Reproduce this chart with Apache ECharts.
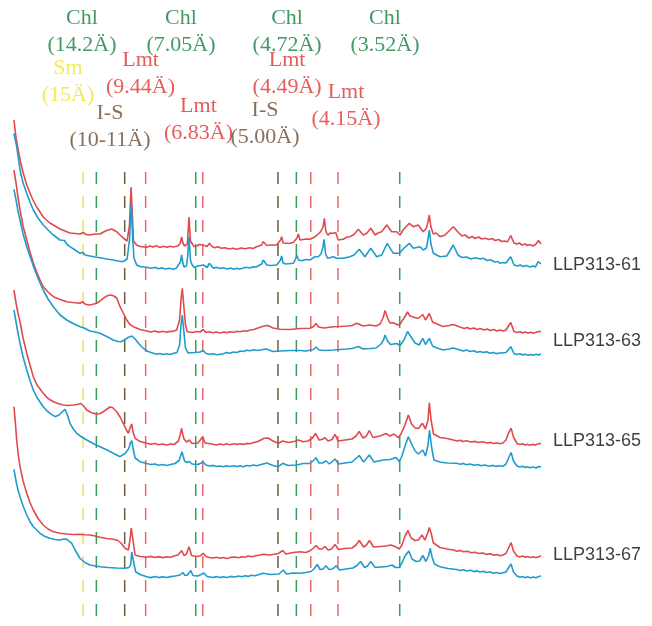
<!DOCTYPE html>
<html>
<head>
<meta charset="utf-8">
<script src="https://cdn.jsdelivr.net/npm/echarts@6/dist/echarts.min.js"></script>
<style>
  html, body { margin: 0; padding: 0; background: #ffffff; }
  #chart { width: 652px; height: 626px; }
</style>
</head>
<body>
<div id="chart"></div>
<script>
// XRD patterns: [2θ (°), intensity above the pattern's own baseline (a.u.)]
// red = air-dried, blue = glycolated; each sample is stacked with an offset.
const red61 = [[1.06,127],[1.19,109],[1.33,97],[1.47,85],[1.64,74],[1.84,63],[2.06,54],[2.25,47],[2.48,40],[2.69,35],[2.89,30],[3.09,27],[3.31,24],[3.63,21],[3.94,18],[4.25,16],[4.56,14],[4.88,13.5],[5.19,13],[5.38,14.5],[5.56,12.5],[5.81,12],[6.13,13],[6.44,13],[6.66,15],[6.86,16.5],[7.17,18],[7.48,15.3],[7.69,12],[7.89,9],[8.13,6],[8.28,22],[8.38,60],[8.46,32],[8.53,6],[8.72,2],[8.94,0.5],[9.36,-0.3],[9.55,1],[9.75,0],[9.95,1.2],[10.19,-0.5],[10.4,0.8],[10.63,-0.3],[10.82,0.7],[11.0,0],[11.31,1],[11.46,4],[11.54,10],[11.62,4],[11.72,1],[11.9,3],[12.0,30],[12.09,6],[12.17,4],[12.31,0.5],[12.48,1],[12.63,2.5],[12.88,2],[13.13,0.5],[13.27,3.7],[13.44,0.5],[13.62,-0.8],[13.81,0.2],[14.02,-1.2],[14.25,-0.8],[14.5,-2],[14.75,-1.2],[15.0,-2.2],[15.25,-1],[15.5,-1.8],[15.81,-0.8],[16.0,-1.5],[16.19,0],[16.54,2],[16.64,5.3],[16.86,1.5],[17.13,2],[17.48,2],[17.72,7],[17.79,10.3],[17.88,4],[18.0,3],[18.25,3.5],[18.52,4.5],[18.75,9],[18.83,13],[18.94,7],[19.04,6.3],[19.31,8],[19.56,7.7],[19.88,10.3],[20.08,13],[20.23,15.3],[20.38,20],[20.46,28.7],[20.55,16],[20.67,12],[20.84,14],[21.02,13.7],[21.17,14.5],[21.33,7],[21.64,7.7],[21.88,10],[22.06,10.3],[22.31,12.5],[22.58,17.7],[22.89,12],[23.13,14],[23.36,18.7],[23.63,12],[23.81,14],[24.04,15.3],[24.36,22],[24.67,15.3],[24.98,15.3],[25.19,12],[25.38,17],[25.5,18.7],[25.77,23.7],[26.02,20.3],[26.33,22],[26.64,15.3],[26.84,19],[26.95,26],[27.02,32],[27.12,20],[27.27,13],[27.44,14],[27.69,10.3],[28.0,12],[28.52,20.3],[28.81,15],[29.05,11],[29.25,12],[29.5,9],[29.7,10.5],[29.88,8.5],[30.1,10],[30.3,8],[30.5,8.8],[30.75,7.5],[30.95,8.5],[31.13,6.5],[31.35,7.5],[31.55,5.5],[31.75,6],[31.9,5],[32.11,11.5],[32.31,4],[32.5,3],[32.65,4],[32.81,2],[33.0,3],[33.15,1.5],[33.31,2.5],[33.5,1],[33.69,3],[33.84,6.5],[34.0,3]];

const blue61 = [[1.06,134.7],[1.23,121.3],[1.44,98],[1.63,85],[1.86,74.7],[2.06,66],[2.27,58],[2.56,50],[2.89,43],[3.19,38],[3.52,33],[3.94,28],[4.06,26.5],[4.21,27.5],[4.38,23.5],[4.56,21.3],[4.88,18],[5.19,14.7],[5.38,15.5],[5.5,13],[5.81,12],[6.13,11],[6.44,10.3],[6.86,9],[7.27,8],[7.56,7],[7.89,6.3],[8.13,9],[8.28,28],[8.39,64.7],[8.47,33],[8.56,10],[8.73,3],[8.94,1.5],[9.36,0.7],[9.6,-0.3],[9.88,0.5],[10.1,-0.8],[10.3,0.2],[10.5,-1],[10.75,-0.2],[11.02,-1.3],[11.2,-0.3],[11.31,0],[11.46,6],[11.54,13],[11.62,5],[11.69,1],[11.84,2],[11.92,12],[12.0,31.3],[12.09,8],[12.17,4],[12.31,0.5],[12.56,2],[12.89,3],[13.13,0.5],[13.27,4.7],[13.52,-0.3],[13.72,0.7],[13.94,-0.5],[14.15,0.3],[14.4,-1],[14.6,0],[14.77,-1.3],[15.0,-0.3],[15.15,-1],[15.31,-0.5],[15.55,0.7],[15.81,0],[16.0,1.3],[16.19,1],[16.54,4],[16.64,8],[16.86,3],[17.13,2.5],[17.48,3],[17.72,8],[17.79,12],[17.88,5],[18.06,4],[18.52,4.7],[18.66,9],[18.73,13],[18.85,8],[19.04,7.3],[19.31,8.5],[19.56,8],[19.88,11.3],[20.08,11.3],[20.25,14],[20.36,20],[20.44,28.7],[20.54,14],[20.67,9.7],[21.02,11.3],[21.23,9.7],[21.64,9.7],[22.06,11.3],[22.31,13],[22.64,18.7],[23.0,11.3],[23.36,19.7],[23.73,11.3],[24.04,13],[24.39,24.7],[24.77,14.7],[25.14,14.7],[25.38,19],[25.77,24.7],[26.02,19.7],[26.44,21.3],[26.64,18],[26.84,20],[26.95,30],[27.02,38],[27.12,24],[27.27,14.7],[27.69,11.3],[28.11,12],[28.52,23],[28.81,13],[29.05,10.5],[29.36,11],[29.6,9],[29.9,10.3],[30.19,9],[30.4,9.8],[30.61,7.5],[30.85,8.2],[31.1,6],[31.3,6.5],[31.44,4.7],[31.6,5.5],[31.81,5],[32.11,11.3],[32.31,3],[32.55,2],[32.7,3],[32.88,1.5],[33.1,2.5],[33.3,1],[33.5,2],[33.65,1],[33.83,6.3],[34.0,4]];

const red63 = [[1.06,162],[1.19,149],[1.31,135],[1.44,122],[1.63,106],[1.86,92],[2.06,80],[2.27,69],[2.48,60],[2.69,52],[2.89,45.3],[3.19,40],[3.52,35.3],[3.94,32.5],[4.36,30.3],[4.75,29.5],[5.19,28.7],[5.36,30.3],[5.5,28],[5.71,27],[5.94,27.5],[6.23,28.7],[6.44,31],[6.64,33.7],[6.86,36],[7.06,37],[7.25,36.5],[7.48,34],[7.69,25.3],[7.89,19],[8.11,12],[8.31,7.5],[8.52,5.3],[8.94,2.5],[9.36,1],[9.6,0],[9.88,1],[10.1,-0.2],[10.35,0.8],[10.61,-0.2],[10.8,0.8],[10.94,0.5],[11.23,2],[11.41,12],[11.5,32],[11.58,43.7],[11.67,27],[11.78,7],[11.89,0.3],[12.19,-0.5],[12.5,0.5],[12.69,0],[12.89,2.5],[13.06,-0.5],[13.28,0.3],[13.5,-0.8],[13.72,0],[13.94,-1],[14.2,0],[14.36,-0.8],[14.56,0.3],[14.8,-0.3],[15.0,0.8],[15.19,0.2],[15.45,1.3],[15.62,0.8],[15.81,2],[16.05,2.5],[16.31,4],[16.69,6],[16.94,6.5],[17.25,4],[17.69,2.7],[18.31,2.5],[18.94,3.5],[19.56,3.7],[19.78,5.5],[19.94,8.5],[20.09,5],[20.44,4],[21.02,5.3],[21.44,5.5],[21.88,6],[22.19,6.5],[22.48,8.7],[22.88,6],[23.31,7],[23.69,6],[23.94,8],[24.13,14],[24.25,21.5],[24.41,14],[24.56,9],[24.77,9.3],[25.06,7],[25.19,8],[25.44,14],[25.66,20],[25.81,16],[26.02,15],[26.31,13.5],[26.61,17.5],[26.78,12],[27.02,18.5],[27.22,10],[27.5,8],[27.88,5.5],[28.25,6.5],[28.52,7.5],[28.94,5],[29.2,3.5],[29.4,4.5],[29.56,3],[29.8,4],[30.0,2.5],[30.19,3.5],[30.45,2],[30.65,3],[30.81,1.5],[31.05,2.5],[31.25,1],[31.44,2],[31.65,1],[31.81,2],[32.11,9.5],[32.31,0.5],[32.5,-0.5],[32.7,0.3],[32.85,-1],[33.0,0],[33.2,-1],[33.35,-0.2],[33.5,-1.2],[33.7,-0.3],[33.85,0.5],[34.0,0.5]];

const blue63 = [[1.06,164.7],[1.19,154],[1.31,143],[1.44,134],[1.63,120],[1.86,107.3],[2.06,98],[2.27,88],[2.48,79],[2.69,71],[2.89,64],[3.19,55],[3.52,47.3],[3.94,39],[4.36,34],[4.75,30.5],[5.19,27.3],[5.29,29],[5.44,26],[5.81,23],[6.13,22],[6.44,20.7],[6.86,17.5],[7.27,14],[7.56,12.5],[7.75,12.3],[8.0,14.5],[8.19,16.5],[8.42,18],[8.63,15],[8.88,10],[9.14,5.7],[9.44,2.5],[9.77,0.7],[9.98,-0.3],[10.19,0.5],[10.4,-0.5],[10.61,0.2],[10.8,-0.6],[11.0,0.5],[11.25,1.5],[11.41,9],[11.5,29],[11.58,39],[11.67,24],[11.78,6],[11.94,1],[12.38,1.5],[12.69,2],[12.89,3.5],[13.06,0.5],[13.28,-0.3],[13.5,0.3],[13.72,-0.8],[13.94,-0.2],[14.15,0.3],[14.35,1.5],[14.55,0.8],[14.77,2],[15.0,1.5],[15.2,3],[15.38,2.5],[15.6,3.8],[15.81,3.2],[16.05,4.2],[16.31,3.5],[16.81,5],[17.25,2.5],[17.69,3],[18.31,3.5],[18.94,3.5],[19.31,3],[19.77,4.5],[19.94,7],[20.13,4],[20.5,3.5],[21.02,4],[21.44,4.5],[21.88,5],[22.19,5.5],[22.58,7.5],[22.88,5],[23.31,5.5],[23.69,6],[24.0,10],[24.16,14],[24.25,19],[24.41,13],[24.59,9.5],[24.98,10.5],[25.19,8.5],[25.44,14],[25.66,22.5],[25.88,17],[26.13,11],[26.38,9],[26.61,15.7],[26.78,9.5],[27.02,15.7],[27.22,8],[27.5,6],[27.88,4],[28.25,5],[28.52,6],[28.94,4],[29.15,3],[29.35,4],[29.56,2.5],[29.8,3.2],[30.0,1.8],[30.19,2.5],[30.4,1.5],[30.6,2.2],[30.81,0.8],[31.0,1.6],[31.2,0.4],[31.44,1],[31.81,1.5],[32.11,7.3],[32.31,0.5],[32.5,-0.5],[32.7,0.3],[32.85,-1],[33.0,-0.3],[33.2,-1.3],[33.35,-0.5],[33.5,-1.2],[33.7,-0.2],[33.85,-1],[34.0,0]];

const red65 = [[1.06,154],[1.19,141],[1.31,131],[1.44,122],[1.63,106],[1.86,90.7],[2.06,79],[2.27,67.3],[2.5,59],[2.89,50.7],[3.19,45.5],[3.52,42.3],[3.81,40.5],[4.14,39],[4.44,38.5],[4.77,39],[5.0,39.5],[5.25,40.5],[5.41,38],[5.61,34],[5.88,31.5],[6.23,29.7],[6.44,30.5],[6.64,32.3],[6.88,35],[7.06,37],[7.22,36.5],[7.48,32.3],[7.69,27],[7.89,20.7],[8.09,14],[8.21,10.7],[8.31,16],[8.42,20],[8.5,12],[8.63,5.7],[8.94,2.5],[9.36,0.7],[9.6,-0.3],[9.88,0.5],[10.1,-0.8],[10.35,0],[10.61,-1],[10.85,0],[11.06,-0.5],[11.34,3],[11.46,10],[11.54,15.7],[11.62,9],[11.69,5],[11.84,2],[12.02,4],[12.19,0.5],[12.56,1],[12.86,7.3],[13.0,1],[13.44,0],[13.7,-1],[13.94,0],[14.15,-0.8],[14.35,0.2],[14.56,-0.7],[14.8,0.3],[15.0,-0.5],[15.19,0.3],[15.4,-0.4],[15.6,0.6],[15.81,0.3],[16.05,1.5],[16.31,2.5],[16.69,5.7],[16.94,6],[17.25,3],[17.58,0.7],[17.86,3],[18.19,1.5],[18.56,2.5],[18.83,4],[19.13,2.3],[19.44,3],[19.72,6],[19.91,10.5],[20.13,4],[20.31,4.5],[20.5,6.3],[20.69,3],[20.94,4.5],[21.13,9.7],[21.31,3],[21.75,4],[22.19,5],[22.44,8],[22.64,12.5],[22.88,6],[23.09,8],[23.27,13.5],[23.5,6.5],[23.94,8],[24.31,10.5],[24.56,8],[24.81,10],[25.08,6.3],[25.25,10],[25.47,18],[25.71,29],[25.91,20],[26.13,16],[26.34,15.5],[26.59,20.7],[26.78,15],[26.94,24],[27.02,41.3],[27.13,24],[27.28,10],[27.69,6.5],[28.13,5.5],[28.52,4],[28.75,3],[28.95,3.8],[29.13,2.5],[29.35,3.3],[29.6,2],[29.88,2.6],[30.1,1.5],[30.35,2.2],[30.63,1],[30.85,1.6],[31.05,0.5],[31.25,1.2],[31.44,0.3],[31.62,1],[31.81,4],[32.0,12],[32.13,15.7],[32.28,7],[32.5,0.5],[32.68,-0.5],[32.85,0.3],[33.0,-1],[33.13,-0.3],[33.3,-1.2],[33.45,-0.4],[33.63,-1],[33.8,0],[34.0,0.7]];

const blue65 = [[1.06,156],[1.19,144],[1.31,133],[1.44,122.7],[1.63,109],[1.86,96],[2.06,85.5],[2.27,76],[2.5,68.5],[2.89,59.3],[3.13,55],[3.31,52.7],[3.63,49.3],[3.88,51],[4.06,54],[4.25,56.7],[4.38,52],[4.56,42.7],[4.77,37],[4.98,32.7],[5.25,29.5],[5.61,26],[6.0,22.5],[6.44,19.3],[6.88,16],[7.27,12.7],[7.69,9.3],[8.0,12.5],[8.22,17],[8.34,23],[8.42,25.3],[8.5,18],[8.63,8],[8.94,4.3],[9.36,2.5],[9.6,1.5],[9.88,2],[10.1,0.8],[10.35,1.5],[10.61,0.5],[10.85,1.5],[11.13,2.5],[11.38,5.5],[11.56,14.3],[11.72,5],[11.88,3.5],[12.02,4.5],[12.19,2],[12.56,1.5],[12.89,4],[13.06,1],[13.28,0],[13.5,0.6],[13.72,-0.5],[13.94,0],[14.15,-0.8],[14.35,0.2],[14.56,-0.5],[14.8,0.3],[15.0,-0.6],[15.2,0.2],[15.39,-0.7],[15.6,0.5],[15.81,0],[16.02,1],[16.23,0.3],[16.86,3],[17.25,0.5],[17.58,-0.7],[17.86,2.7],[18.19,0.5],[18.73,1],[19.13,2.5],[19.56,2.5],[19.75,5],[19.94,8.3],[20.13,3],[20.34,3],[20.56,5],[20.78,2],[21.13,7],[21.34,2],[21.75,3],[22.19,4],[22.64,10.5],[22.91,4],[23.27,11],[23.56,4],[24.13,6],[24.56,6.5],[24.94,8.5],[25.14,4.5],[25.31,10],[25.5,20],[25.71,29.3],[25.91,22],[26.13,15],[26.34,12],[26.61,16],[26.78,10],[26.94,21],[27.03,36],[27.16,19],[27.31,6],[27.69,4],[28.11,3],[28.73,2.7],[28.95,1.8],[29.15,2.6],[29.35,1.3],[29.56,2],[29.8,0.8],[30.05,1.5],[30.25,0.3],[30.5,1],[30.75,-0.2],[31.0,0.6],[31.2,-0.4],[31.44,0.3],[31.62,-0.3],[31.81,2],[32.0,9],[32.13,13.5],[32.28,5],[32.5,0],[32.68,-1],[32.85,-0.3],[33.0,-1.5],[33.15,-0.7],[33.3,-1.8],[33.5,-1],[33.7,-2],[33.85,-0.5],[34.0,-1]];

const red67 = [[1.06,150.3],[1.16,132],[1.23,117],[1.33,102],[1.44,90.3],[1.63,76],[1.86,63.7],[2.06,54.5],[2.27,47],[2.56,38.5],[2.89,32],[3.19,28],[3.52,25.3],[3.94,23.7],[4.36,23],[4.75,22.5],[5.19,22.7],[5.5,22.2],[5.81,22],[6.13,21],[6.44,19.7],[6.86,18.5],[7.27,17.7],[7.56,16.5],[7.75,14],[8.0,8.7],[8.21,7],[8.31,17],[8.39,29],[8.44,31],[8.5,17],[8.63,2],[8.94,0.5],[9.36,-0.3],[9.6,0.6],[9.88,-0.5],[10.1,0.4],[10.35,-0.6],[10.61,0.3],[10.85,-0.3],[11.06,1],[11.31,2],[11.54,6.3],[11.69,1.5],[11.84,3],[12.0,10.3],[12.16,1.5],[12.44,0.5],[12.69,1],[12.89,3.7],[13.06,0.5],[13.28,-0.5],[13.5,-1],[13.72,-0.3],[13.94,-1.3],[14.15,-0.5],[14.36,-1.5],[14.6,-0.4],[14.88,0],[15.1,-0.8],[15.3,0.3],[15.5,-0.2],[15.7,1],[15.9,0.2],[16.13,1],[16.64,2.7],[17.06,2],[17.58,3.5],[17.86,6.5],[18.06,3],[18.52,4.5],[18.94,5.3],[19.31,4.5],[19.59,6.5],[19.78,9],[19.95,11.5],[20.13,8],[20.31,8],[20.5,10.5],[20.69,7],[20.91,8],[21.13,12.5],[21.34,7.5],[21.75,8.5],[22.19,9],[22.44,12],[22.64,16.5],[22.91,10],[23.09,12],[23.28,16.5],[23.53,10],[23.94,10.5],[24.31,11],[24.63,12],[24.94,10],[25.14,8],[25.31,12],[25.5,21],[25.69,26.5],[25.88,19],[26.13,16.5],[26.34,17],[26.56,22],[26.75,17],[26.94,25],[27.02,29.5],[27.13,24],[27.28,14],[27.69,9.5],[28.13,8],[28.52,7],[28.75,5.8],[28.95,6.6],[29.13,5.2],[29.4,5.8],[29.65,4.2],[29.88,4.8],[30.1,3.5],[30.35,4],[30.63,2.6],[30.85,3.3],[31.05,1.8],[31.25,2.4],[31.44,1.2],[31.62,2],[31.81,3.5],[32.0,10],[32.13,14.3],[32.28,6],[32.5,1],[32.68,0],[32.85,1],[33.0,-0.3],[33.17,0.6],[33.33,-0.6],[33.5,0.2],[33.68,-0.8],[33.85,0.3],[34.0,1]];

const blue67 = [[1.06,107.7],[1.19,96],[1.31,87],[1.44,80.3],[1.63,71],[1.86,62],[2.06,55.5],[2.27,50.3],[2.69,43.7],[3.0,40.5],[3.31,38.7],[3.63,37.5],[3.94,37],[4.19,38],[4.36,37.7],[4.5,36],[4.67,33.7],[4.88,27],[5.19,18.5],[5.5,14.5],[5.81,12],[6.44,10.3],[6.94,9.5],[7.44,9],[8.0,8.7],[8.25,9.5],[8.36,13],[8.42,25],[8.48,27],[8.54,15],[8.66,5.3],[8.94,2.5],[9.36,0.3],[9.6,-0.6],[9.88,0.4],[10.1,-0.6],[10.35,0.2],[10.61,-0.5],[10.85,0.4],[11.13,1],[11.44,2],[11.61,4.5],[11.75,1.5],[11.91,2],[12.11,6.5],[12.25,1.5],[12.56,1],[12.94,4],[13.13,0.5],[13.5,-0.5],[13.72,0.4],[13.94,-0.6],[14.15,0.2],[14.36,-0.5],[14.6,0.6],[14.88,0],[15.1,1],[15.3,0.2],[15.5,1.2],[15.7,0.6],[15.9,1.8],[16.13,1.2],[16.64,3.7],[17.06,2.5],[17.63,3],[17.89,7],[18.09,3],[18.5,4],[18.94,3.7],[19.31,4.5],[19.63,5.5],[19.81,8],[20.02,12.5],[20.19,7.5],[20.38,8],[20.56,11.2],[20.75,7.5],[20.97,8],[21.19,11.2],[21.41,7],[21.81,8],[22.25,9],[22.5,11.5],[22.72,15.5],[22.97,9.5],[23.16,11],[23.36,15.5],[23.63,9.5],[24.0,10],[24.38,10.5],[24.69,12],[24.91,9.5],[25.14,9.5],[25.31,14],[25.5,21],[25.74,26],[25.94,18],[26.19,15.5],[26.41,16],[26.61,21.5],[26.81,15.5],[26.97,21],[27.08,28.7],[27.19,20],[27.34,13],[27.69,10.3],[28.19,8.5],[28.73,7.5],[28.95,6.5],[29.15,7.3],[29.36,6],[29.6,6.8],[29.8,5.4],[30.0,6.1],[30.19,5],[30.4,5.8],[30.6,4.5],[30.8,5.2],[31.0,3.8],[31.2,4.5],[31.44,3.5],[31.81,5],[32.0,10],[32.13,13],[32.28,5],[32.5,1],[32.68,-0.2],[32.85,0.6],[33.0,-0.7],[33.17,0.3],[33.33,-0.9],[33.5,0],[33.68,-0.8],[33.85,0.5],[34.0,1]];

// Stacking: sample names and the vertical offset of each pattern
const samples = ['LLP313-61', 'LLP313-63', 'LLP313-65', 'LLP313-67'];
const redPatterns = [red61, red63, red65, red67];
const bluePatterns = [blue61, blue63, blue65, blue67];
const redOffsets = [379, 294, 182, 69];
const blueOffsets = [358, 272, 160, 49];
const sampleLabelY = [361, 285, 185, 71];
const sampleLabelX = 34.75;

// Reference reflections (2θ) and mineral of each dashed line
const refPositions = [5.38, 6.21, 7.98, 9.29, 12.42, 12.86, 17.56, 18.71, 19.61, 21.31, 25.17];
const refMinerals  = ['Sm', 'Chl', 'I-S', 'Lmt', 'Chl', 'Lmt', 'I-S', 'Chl', 'Lmt', 'Lmt', 'Chl'];
const refTop = 454;

// Peak annotations: text and anchor (2θ, stacked intensity)
const annotTexts = ['Chl\n(14.2Ä)', 'Chl\n(7.05Ä)', 'Chl\n(4.72Ä)', 'Chl\n(3.52Ä)',
                    'Sm\n(15Ä)', 'Lmt\n(9.44Ä)', 'I-S\n(10-11Ä)', 'Lmt\n(6.83Ä)',
                    'I-S\n(5.00Ä)', 'Lmt\n(4.49Ä)', 'Lmt\n(4.15Ä)'];
const annotMinerals = ['Chl', 'Chl', 'Chl', 'Chl', 'Sm', 'Lmt', 'I-S', 'Lmt', 'I-S', 'Lmt', 'Lmt'];
const annotX = [5.31, 11.5, 18.13, 24.25, 4.44, 8.97, 7.06, 12.59, 16.75, 18.13, 21.81];
const annotY = [594.5, 594.5, 594.5, 594.5, 544.5, 552.5, 499.5, 506, 502.5, 552.5, 520.5];

const lineColors = { Sm: '#ece35a', Chl: '#3b9c5e', 'I-S': '#6f5b3e', Lmt: '#e36a68' };
const textColors = { Sm: '#efe62c', Chl: '#137f3f', 'I-S': '#6a4b2f', Lmt: '#df3430' };
const redColor = '#e04a4e';
const blueColor = '#1f9ccc';

const series = [];

refPositions.forEach((x, i) => {
  series.push({
    type: 'line',
    data: [[x, refTop], [x, 0]],
    symbol: 'none',
    silent: true,
    lineStyle: { color: lineColors[refMinerals[i]], width: 1.5, type: [12, 12] },
    z: 1
  });
});

function shifted(pattern, offset) {
  return pattern.map(p => [p[0], p[1] + offset]);
}

redPatterns.forEach((pat, i) => {
  series.push({
    type: 'line',
    data: shifted(pat, redOffsets[i]),
    symbol: 'none',
    silent: true,
    lineStyle: { color: redColor, width: 1.6 },
    z: 2
  });
});
bluePatterns.forEach((pat, i) => {
  series.push({
    type: 'line',
    data: shifted(pat, blueOffsets[i]),
    symbol: 'none',
    silent: true,
    lineStyle: { color: blueColor, width: 1.6 },
    z: 3
  });
});

// mineral annotations
series.push({
  type: 'scatter',
  symbolSize: 0,
  silent: true,
  z: 5,
  data: annotTexts.map((t, i) => ({
    value: [annotX[i], annotY[i]],
    label: {
      show: true,
      formatter: t,
      position: 'inside',
      align: 'center',
      verticalAlign: 'middle',
      fontFamily: 'Liberation Serif',
      fontSize: 22,
      lineHeight: 27,
      color: textColors[annotMinerals[i]]
    }
  }))
});

// sample names
series.push({
  type: 'scatter',
  symbolSize: 0,
  silent: true,
  z: 5,
  data: samples.map((s, i) => ({
    value: [sampleLabelX, sampleLabelY[i]],
    label: {
      show: true,
      formatter: s,
      position: 'inside',
      align: 'left',
      verticalAlign: 'middle',
      fontFamily: 'Liberation Sans',
      fontSize: 18,
      color: '#0d0d0d'
    }
  }))
});

const chart = echarts.init(document.getElementById('chart'), null, { renderer: 'canvas' });
chart.setOption({
  animation: false,
  backgroundColor: '#ffffff',
  grid: { left: 13, right: 15, top: 0, bottom: 0 },
  xAxis: { type: 'value', min: 1, max: 40, show: false },
  yAxis: { type: 'value', min: 0, max: 626, show: false },
  series: series
});
</script>
</body>
</html>
